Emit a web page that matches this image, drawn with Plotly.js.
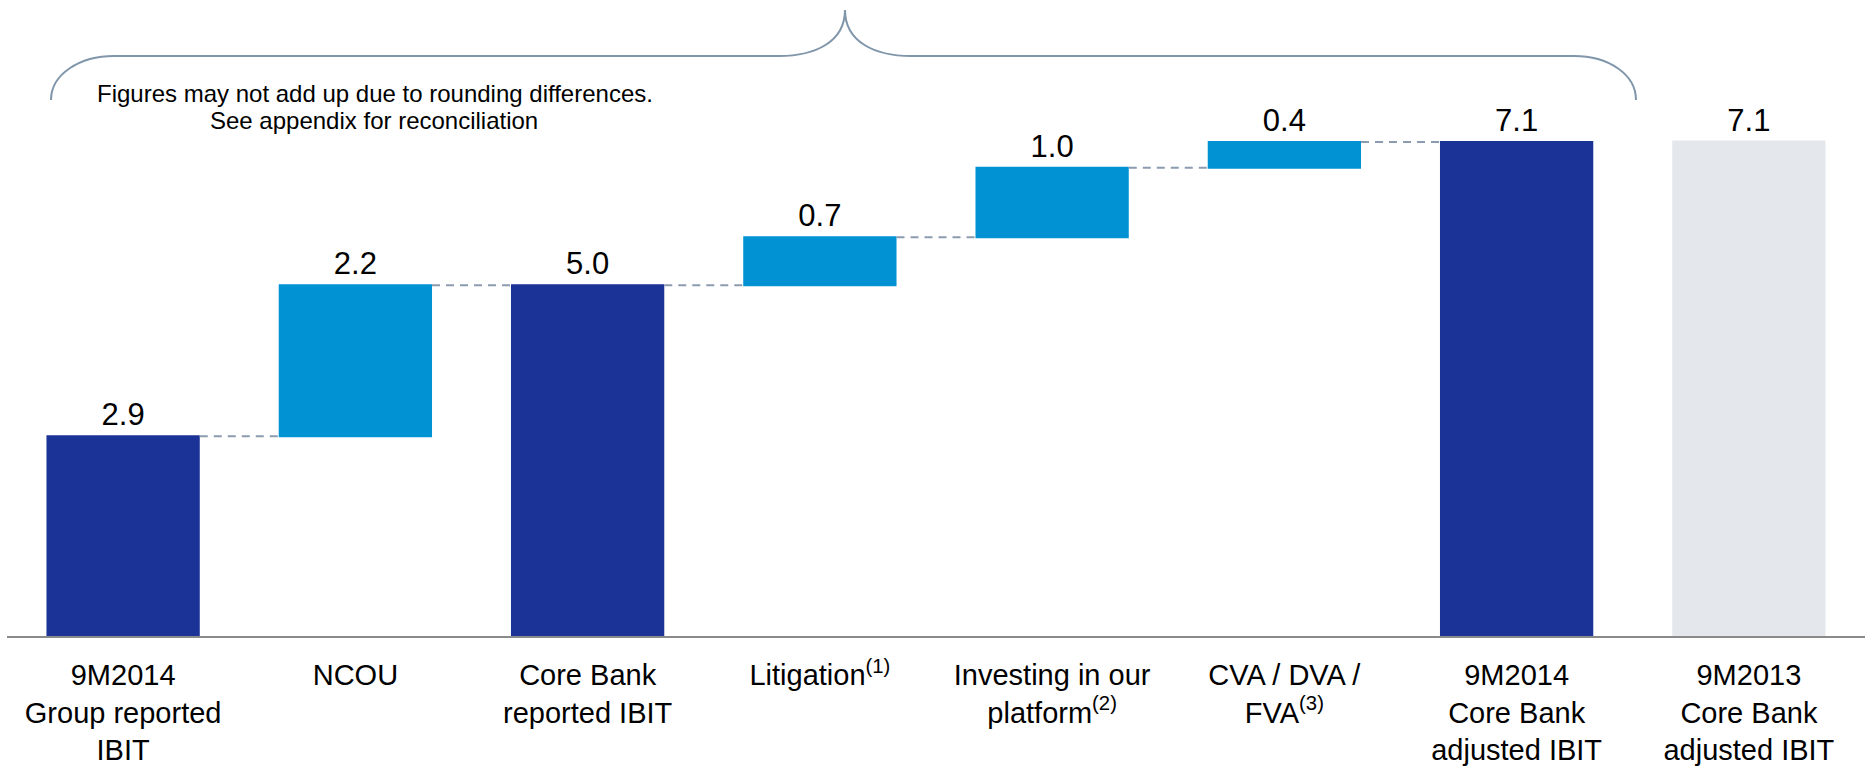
<!DOCTYPE html>
<html>
<head>
<meta charset="utf-8">
<script src="https://cdn.plot.ly/plotly-3.0.1.min.js"></script>
<style>html,body{margin:0;padding:0;background:#fff;}#chart{width:1873px;height:771px;}</style>
</head>
<body>
<div id="chart"></div>
<script>
// ---- data ----
const categories = [
  "9M2014<br>Group reported<br>IBIT",
  "NCOU",
  "Core Bank<br>reported IBIT",
  "Litigation<sup>(1)</sup>",
  "Investing in our<br>platform<sup>(2)</sup>",
  "CVA / DVA /<br>FVA<sup>(3)</sup>",
  "9M2014<br>Core Bank<br>adjusted IBIT",
  "9M2013<br>Core Bank<br>adjusted IBIT"
];
const bridgeMeasures = ["absolute", "relative", "total", "relative", "relative", "relative", "total"];
const bridgeValues   = [2.87, 2.17, 0, 0.69, 1.00, 0.37, 0];
const bridgeLabels   = ["2.9", "2.2", "5.0", "0.7", "1.0", "0.4", "7.1"];
const priorValue     = [7.12];
const priorLabel     = ["7.1"];
const noteLines = ["Figures may not add up due to rounding differences.", "See appendix for reconciliation"];

// ---- layout helpers (pixel -> paper) ----
const W = 1873, H = 771, ML = 7, MR = 8, MT = 0, MB = 135;
const PW = W - ML - MR, PH = H - MT - MB;
const px = x => (x - ML) / PW;
const py = y => (PH + MT - y) / PH;
const P = (x, y) => px(x).toFixed(5) + "," + py(y).toFixed(5);

const bracePath =
  "M " + P(51,100) +
  " C " + P(51,74) + " " + P(80,56) + " " + P(114,56) +
  " L " + P(779,56) +
  " C " + P(815,56) + " " + P(845,42) + " " + P(845,10) +
  " C " + P(845,42) + " " + P(875,56) + " " + P(911,56) +
  " L " + P(1574,56) +
  " C " + P(1608,56) + " " + P(1636,74) + " " + P(1636,100);

const navy = "#1b3296", light = "#0092d2", grey = "#e4e7ec";
const fam = "Liberation Sans, Arial, sans-serif";

const traces = [
  {
    type: "waterfall",
    x: categories.slice(0, 7),
    y: bridgeValues,
    measure: bridgeMeasures,
    text: bridgeLabels,
    textposition: "outside",
    textfont: {family: fam, size: 31, color: "#000"},
    cliponaxis: false,
    width: 0.66,
    increasing: {marker: {color: light}},
    decreasing: {marker: {color: light}},
    totals: {marker: {color: navy}},
    connector: {mode: "between", line: {color: "#8c9cb0", width: 2, dash: "8px,6px"}},
    hoverinfo: "skip",
    showlegend: false
  },
  {
    type: "bar",
    x: [categories[7]],
    y: priorValue,
    text: priorLabel,
    textposition: "outside",
    textfont: {family: fam, size: 31, color: "#000"},
    cliponaxis: false,
    width: 0.66,
    marker: {color: grey},
    hoverinfo: "skip",
    showlegend: false
  }
];

const layout = {
  width: W, height: H,
  margin: {l: ML, r: MR, t: MT, b: MB},
  paper_bgcolor: "#fff", plot_bgcolor: "#fff",
  font: {family: fam, color: "#000"},
  showlegend: false,
  xaxis: {
    type: "category",
    categoryorder: "array",
    categoryarray: categories,
    range: [-0.5, 7.5],
    showline: true, linecolor: "#8a8a8a", linewidth: 2,
    showgrid: false, zeroline: false,
    ticks: "outside", ticklen: 12, tickcolor: "rgba(0,0,0,0)",
    tickfont: {family: fam, size: 29, color: "#000"}
  },
  yaxis: {
    range: [0, 9.14],
    visible: false, showgrid: false, zeroline: false
  },
  shapes: [
    {type: "path", xref: "paper", yref: "paper", path: bracePath,
     line: {color: "#8096ab", width: 2}}
  ],
  annotations: [
    {xref: "paper", yref: "paper", x: px(375), y: py(93), xanchor: "center", yanchor: "middle",
     text: noteLines[0], showarrow: false,
     font: {family: fam, size: 24, color: "#000"}},
    {xref: "paper", yref: "paper", x: px(374), y: py(120.5), xanchor: "center", yanchor: "middle",
     text: noteLines[1], showarrow: false,
     font: {family: fam, size: 24, color: "#000"}}
  ]
};

Plotly.newPlot("chart", traces, layout, {displayModeBar: false, staticPlot: true});
</script>
</body>
</html>
